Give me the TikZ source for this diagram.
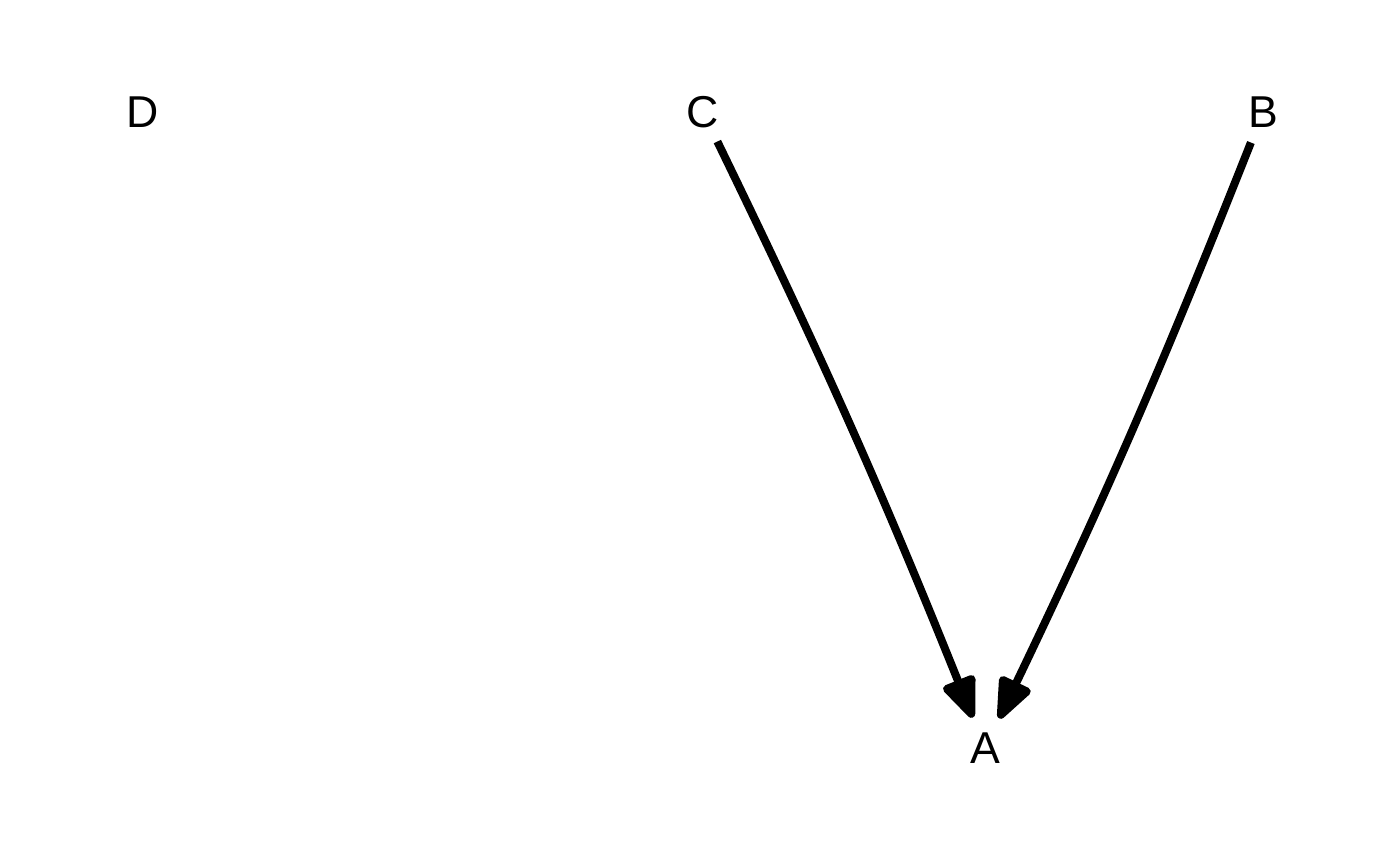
\documentclass[tikz,border=0pt]{standalone}
\usepackage{fontspec}
\setmainfont{Liberation Sans}
\usetikzlibrary{arrows.meta}

\begin{document}
\begin{tikzpicture}[
        x=0.02cm, y=-0.02cm,
        vnode/.style={circle, minimum size=1.3cm, inner sep=0pt, font=\fontsize{25.4}{30}\selectfont},
        link/.style={line width=0.16cm, -{Triangle[length=0.95cm, width=0.72cm, round]}, bend left=2},
      ]
        \useasboundingbox (0,0) rectangle (1400,866);

        \node[vnode] (D) at (143,112) {D};
        \node[vnode] (C) at (703,112) {C};
        \node[vnode] (B) at (1263,112) {B};
        \node[vnode] (A) at (985,748) {A};

        \draw[link] (C) to (A);
        \draw[link] (B) to (A);
      \end{tikzpicture}
\end{document}
